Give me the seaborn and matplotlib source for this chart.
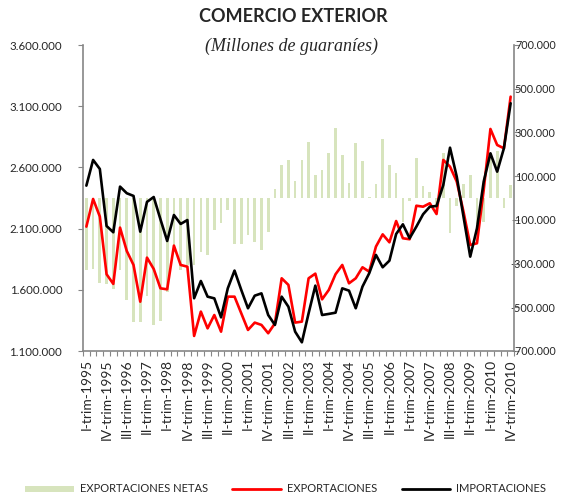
import numpy as np
import pandas as pd
import matplotlib
matplotlib.use("Agg")
import matplotlib.pyplot as plt
import seaborn as sns
from matplotlib.patches import Patch
from matplotlib.lines import Line2D
from matplotlib.ticker import FuncFormatter

# ---------------- data (millones de guaraníes, en miles) ----------------
years = list(range(1995, 2011))
quarter_names = ["I", "II", "III", "IV"]

exportaciones = [2116, 2342, 2198, 1727, 1648, 2108, 1917, 1803, 1503, 1863,
                 1770, 1612, 1604, 1961, 1803, 1789, 1223, 1422, 1285, 1394,
                 1258, 1544, 1544, 1408, 1272, 1332, 1313, 1245, 1326, 1694,
                 1640, 1332, 1340, 1694, 1732, 1522, 1599, 1727, 1803, 1653,
                 1694, 1784, 1748, 1953, 2053, 1988, 2162, 2021, 2013, 2287,
                 2279, 2307, 2219, 2661, 2606, 2484, 2238, 1966, 1980, 2415,
                 2914, 2783, 2756, 3178]

importaciones = [2451, 2661, 2587, 2121, 2070, 2443, 2389, 2367, 2075, 2318,
                 2358, 2176, 1999, 2211, 2138, 2170, 1531, 1672, 1544, 1530,
                 1375, 1612, 1757, 1599, 1449, 1552, 1571, 1394, 1313, 1544,
                 1462, 1258, 1171, 1408, 1634, 1394, 1403, 1413, 1612, 1593,
                 1449, 1626, 1735, 1885, 1784, 1838, 2056, 2135, 2021, 2116,
                 2217, 2279, 2285, 2456, 2761, 2524, 2198, 1871, 2102, 2484,
                 2715, 2565, 2756, 3124]

exportaciones_netas = [-329, -323, -390, -393, -418, -329, -467, -566, -566, -447,
                       -581, -561, -430, -245, -329, -306, -306, -245, -261, -146,
                       -116, -55, -212, -209, -168, -200, -240, -154, 40, 152,
                       175, 78, 174, 257, 103, 128, 208, 320, 197, 68,
                       252, 167, 6, 64, 268, 153, 116, -110, -13, 184,
                       56, 26, -60, 207, -160, -36, 63, 103, -118, -112,
                       205, 215, -44, 58]

labels = [f"{q}-trim-{y}" for y in years for q in quarter_names]

df = pd.DataFrame({
    "trim": labels,
    "pos": np.arange(len(labels)),
    "exp": np.array(exportaciones) * 1000,
    "imp": np.array(importaciones) * 1000,
    "net": np.array(exportaciones_netas) * 1000,
})

# ---------------- style ----------------
sns.set_theme(style="white")
plt.rcParams["font.family"] = ["Lato", "DejaVu Sans"]

GREY = "#868686"
GREEN = "#d7e4bd"

fig = plt.figure(figsize=(5.83, 4.97), dpi=100)
ax = fig.add_axes([83 / 583, 1 - 351 / 497, (514 - 83) / 583, (351 - 45) / 497])
ax2 = ax.twinx()

sns.barplot(data=df, x="pos", y="net", ax=ax2, native_scale=True,
            color=GREEN, saturation=1, width=0.4, edgecolor="none")
sns.lineplot(data=df, x="pos", y="exp", ax=ax, color="#ff0000", lw=1.9)
sns.lineplot(data=df, x="pos", y="imp", ax=ax, color="#000000", lw=1.9)

ax.set_zorder(ax2.get_zorder() + 1)
ax.patch.set_visible(False)

fmt = FuncFormatter(lambda v, p: f"{v:,.0f}".replace(",", "."))

ax.set_ylim(1_100_000, 3_600_000)
ax.set_yticks(np.arange(1_100_000, 3_600_001, 500_000))
ax.yaxis.set_major_formatter(fmt)
ax2.set_ylim(-700_000, 700_000)
ax2.set_yticks(np.arange(-700_000, 700_001, 200_000))
ax2.yaxis.set_major_formatter(fmt)

ax.set_xlim(-0.5, len(labels) - 0.5)
ax.set_xticks(df["pos"][::3])
ax.set_xticklabels(labels[::3], rotation=90, fontsize=10)
ax.set_xticks(np.arange(-0.5, len(labels), 1), minor=True)
ax.tick_params(axis="x", which="major", length=0, pad=6, bottom=False)
ax.tick_params(axis="x", which="minor", length=3.5, width=0.8, color=GREY,
               direction="out", bottom=True)

ax.tick_params(axis="y", left=True, length=3.5, width=0.8, color=GREY,
               direction="out", pad=11.5, labelsize=8.3)
ax2.tick_params(axis="y", right=True, length=3.5, width=0.8, color=GREY,
                direction="out", pad=26.5, labelsize=7.8)
for t in ax2.get_yticklabels():
    t.set_horizontalalignment("right")

for a in (ax, ax2):
    a.set_xlabel("")
    a.set_ylabel("")
    a.grid(False)
    for s in a.spines.values():
        s.set_color(GREY)
        s.set_linewidth(1.2)
ax.spines["top"].set_visible(False)
ax.spines["right"].set_visible(False)
ax2.spines["top"].set_visible(False)
ax2.spines["left"].set_visible(False)
ax2.spines["bottom"].set_visible(False)

fig.text(0.503, 1 - 17 / 497, "COMERCIO EXTERIOR", ha="center", va="center",
         fontsize=13, fontweight="bold")
fig.text(0.5, 1 - 46 / 497, "(Millones de guaraníes)", ha="center", va="center",
         fontsize=13, family="Liberation Serif", style="italic")

handles = [
    Patch(facecolor=GREEN, edgecolor="none", label="EXPORTACIONES NETAS"),
    Line2D([], [], color="#ff0000", lw=2, label="EXPORTACIONES"),
    Line2D([], [], color="#000000", lw=2, label="IMPORTACIONES"),
]
fig.legend(handles=handles, loc="center", bbox_to_anchor=(0.49, 1 - 489 / 497),
           ncol=3, frameon=False, fontsize=8, handlelength=4.4,
           handleheight=0.45, columnspacing=2.2, handletextpad=0.5)

fig.savefig("out.png", dpi=100)
